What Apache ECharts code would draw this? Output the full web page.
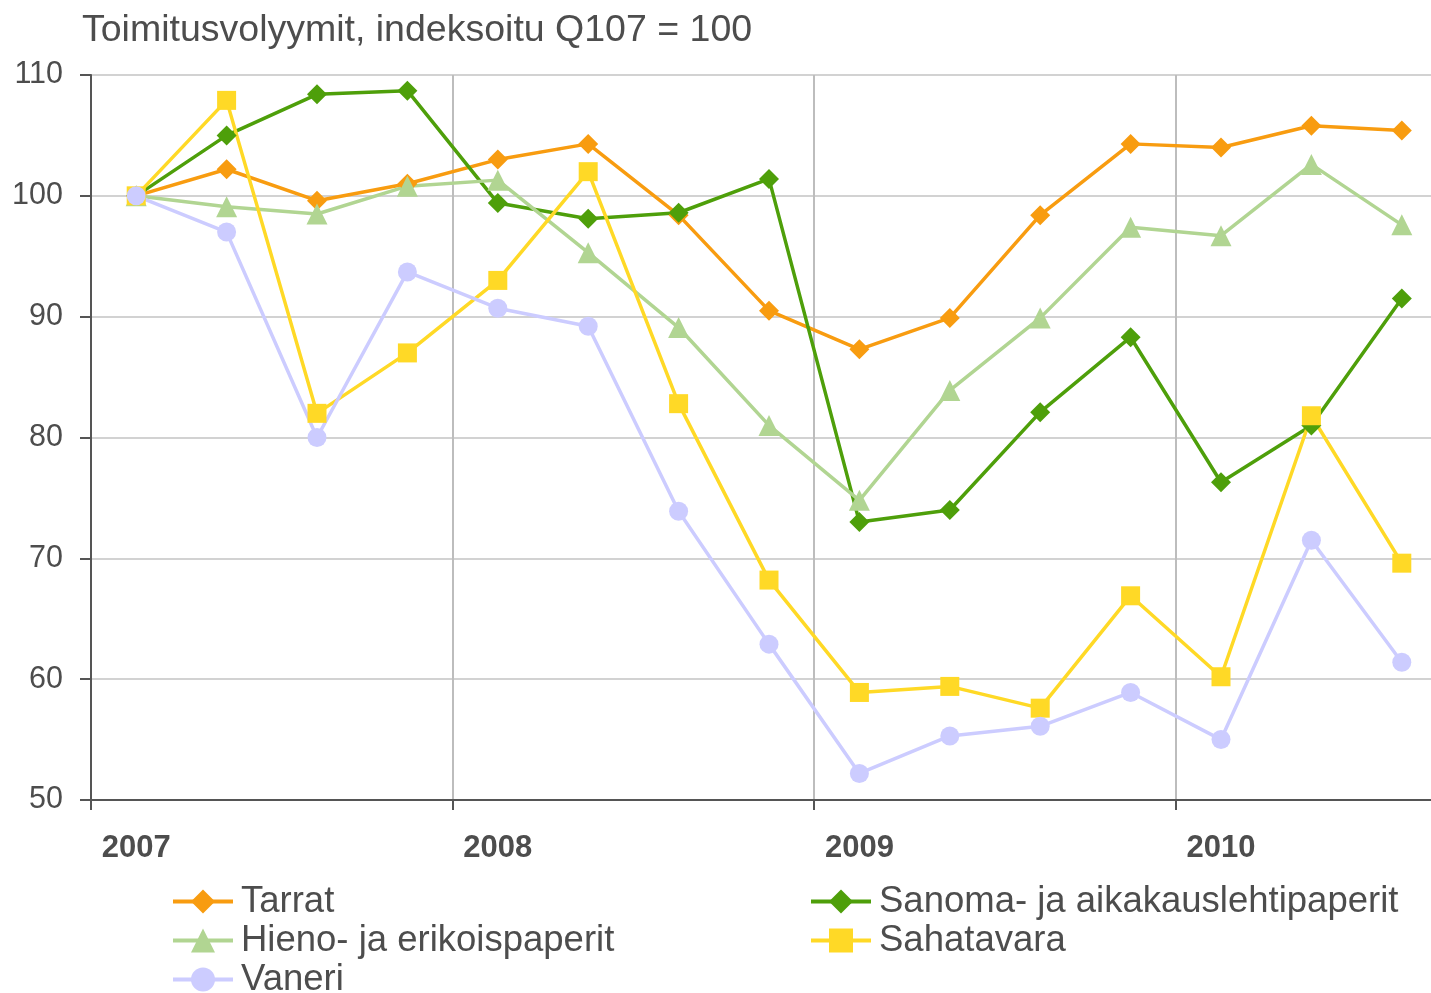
<!DOCTYPE html>
<html>
<head>
<meta charset="utf-8">
<title>Toimitusvolyymit</title>
<script src="https://cdn.jsdelivr.net/npm/echarts@6/dist/echarts.min.js"></script>
<style>
  html, body { margin: 0; padding: 0; background: #fff; }
  #main { width: 1431px; height: 993px; }
</style>
</head>
<body>
<div id="main"></div>
<script>
// vuosineljännekset Q1/07 ... Q3/10
var quarters = ['Q1/07','Q2/07','Q3/07','Q4/07','Q1/08','Q2/08','Q3/08','Q4/08',
                'Q1/09','Q2/09','Q3/09','Q4/09','Q1/10','Q2/10','Q3/10'];
var yearLabels = ['2007', '2008', '2009', '2010'];

var tarrat     = [100, 102.2, 99.6, 101.0, 103.0, 104.3, 98.4, 90.5, 87.3, 89.9, 98.4, 104.3, 104.0, 105.8, 105.4];
var sanoma     = [100, 105.0, 108.4, 108.7, 99.4, 98.1, 98.6, 101.4, 73.0, 74.0, 82.1, 88.3, 76.3, 81.0, 91.5];
var hieno      = [100, 99.1, 98.5, 100.8, 101.3, 95.3, 89.1, 81.0, 74.8, 83.9, 89.9, 97.4, 96.7, 102.6, 97.6];
var sahatavara = [100, 107.9, 82.0, 87.0, 93.0, 102.0, 82.8, 68.2, 58.9, 59.4, 57.6, 66.9, 60.2, 81.8, 69.6];
var vaneri     = [100, 97.0, 80.0, 93.7, 90.7, 89.2, 73.9, 62.9, 52.2, 55.3, 56.1, 58.9, 55.0, 71.5, 61.4];

var textColor = '#4d4d4d';
var axisColor = '#555555';
var font = 'Liberation Sans, Arial, sans-serif';

function lineSeries(name, data, color, symbol, size) {
    return {
        name: name,
        type: 'line',
        data: data,
        symbol: symbol,
        symbolSize: size,
        showAllSymbol: true,
        itemStyle: { color: color },
        lineStyle: { color: color, width: 3.5 },
        emphasis: { disabled: true }
    };
}

// yksi selite per rivi/sarake, jotta asettelu pysyy kuten kuvassa
function legendItem(name, left, centerY) {
    return {
        left: left,
        top: centerY - 18,
        padding: 0,
        itemWidth: 60,
        itemHeight: 30,
        data: [name],
        lineStyle: { width: 4 },
        textStyle: { color: textColor, fontSize: 36.5, lineHeight: 36, fontFamily: font, padding: [0, 0, 0, 3] }
    };
}

var option = {
    animation: false,
    backgroundColor: '#ffffff',
    textStyle: { fontFamily: font },
    title: {
        text: 'Toimitusvolyymit, indeksoitu Q107 = 100',
        left: 82,
        top: 12,
        padding: 0,
        textStyle: { color: textColor, fontSize: 37.5, fontWeight: 'normal', fontFamily: font }
    },
    legend: [
        legendItem('Tarrat', 171, 901),
        legendItem('Hieno- ja erikoispaperit', 171, 940),
        legendItem('Vaneri', 171, 979),
        legendItem('Sanoma- ja aikakauslehtipaperit', 809, 901),
        legendItem('Sahatavara', 809, 940)
    ],
    grid: {
        left: 91,
        top: 75,
        bottom: 193,
        width: 1356,
        outerBoundsMode: 'none'
    },
    xAxis: {
        type: 'category',
        data: quarters,
        boundaryGap: true,
        axisLine: { lineStyle: { color: axisColor, width: 2 } },
        axisTick: { show: true, interval: 3, length: 10, lineStyle: { color: axisColor, width: 2 } },
        axisLabel: {
            interval: 3,
            margin: 33,
            color: textColor,
            fontSize: 31,
            fontWeight: 'bold',
            formatter: function (val, idx) {
                return idx % 4 === 0 ? yearLabels[idx / 4] : '';
            }
        },
        splitLine: { show: true, interval: 3, lineStyle: { color: '#bdbdbd', width: 2 } }
    },
    yAxis: {
        type: 'value',
        min: 50,
        max: 110,
        interval: 10,
        axisLine: { show: true, lineStyle: { color: axisColor, width: 2 } },
        axisTick: { show: true, length: 11, lineStyle: { color: axisColor, width: 2 } },
        axisLabel: { margin: 28, color: textColor, fontSize: 30.5 },
        splitLine: { show: true, lineStyle: { color: '#d2d2d2', width: 2 } }
    },
    series: [
        lineSeries('Tarrat', tarrat, '#f89c10', 'diamond', 20),
        lineSeries('Sanoma- ja aikakauslehtipaperit', sanoma, '#4e9f0a', 'diamond', 20),
        lineSeries('Hieno- ja erikoispaperit', hieno, '#b1d592', 'triangle', 21),
        lineSeries('Sahatavara', sahatavara, '#ffd926', 'rect', 19),
        lineSeries('Vaneri', vaneri, '#ccccff', 'circle', 19)
    ]
};

var myChart = echarts.init(document.getElementById('main'));
myChart.setOption(option);
</script>
</body>
</html>
